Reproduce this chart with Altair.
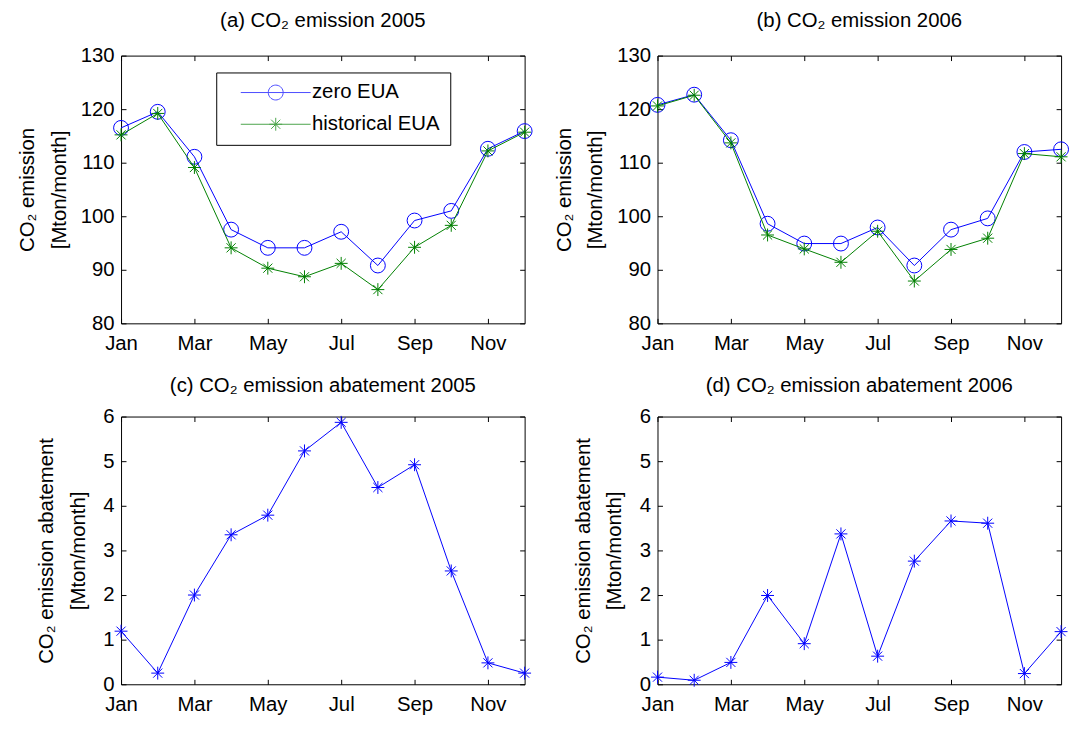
import math
import altair as alt
import pandas as pd

# ---------------- data ----------------
months = ["Jan", "Feb", "Mar", "Apr", "May", "Jun", "Jul", "Aug", "Sep", "Oct", "Nov", "Dec"]
month_num = list(range(1, 13))
tick_months = [1, 3, 5, 7, 9, 11]

zero_2005 = [116.5, 119.5, 111.1, 97.5, 94.1, 94.1, 97.1, 90.8, 99.2, 101.0, 112.6, 115.9]
hist_2005 = [115.2, 119.2, 109.1, 94.1, 90.3, 88.7, 91.2, 86.3, 94.2, 98.3, 112.2, 115.7]
zero_2006 = [120.8, 122.7, 114.2, 98.6, 94.9, 94.9, 97.9, 90.8, 97.5, 99.6, 112.0, 112.5]
hist_2006 = [120.6, 122.6, 113.7, 96.5, 93.9, 91.4, 97.2, 87.9, 93.8, 95.9, 111.7, 111.1]
abate_2005 = [1.19, 0.25, 2.00, 3.35, 3.79, 5.23, 5.87, 4.41, 4.92, 2.54, 0.48, 0.25]
abate_2006 = [0.16, 0.09, 0.49, 1.99, 0.91, 3.37, 0.63, 2.76, 3.66, 3.61, 0.24, 1.18]

series_names = ["zero EUA", "historical EUA"]
titles = ["(a) CO\u2082 emission 2005", "(b) CO\u2082 emission 2006",
          "(c) CO\u2082 emission abatement 2005", "(d) CO\u2082 emission abatement 2006"]
ytitle_top = ["CO\u2082 emission", "[Mton/month]"]
ytitle_bottom = ["CO\u2082 emission abatement", "[Mton/month]"]

# ---------------- style ----------------
BLUE = "#0000ff"
GREEN = "#008000"
FONT = "Liberation Sans"
FS = 20.5
W, H = 407, 270

ASTERISK = "M-1,0L1,0M0,-1L0,1M-0.707,-0.707L0.707,0.707M-0.707,0.707L0.707,-0.707"


def poly_circle(cx, r, n=36):
    pts = [(cx + r * math.cos(2 * math.pi * k / n), r * math.sin(2 * math.pi * k / n)) for k in range(n)]
    return "M" + "L".join(f"{x:.3f},{y:.3f}" for x, y in pts) + "Z"


def star(cx, a):
    d = a * 0.707
    return (f"M{cx-a:.3f},0L{cx+a:.3f},0M{cx:.3f},{-a:.3f}L{cx:.3f},{a:.3f}"
            f"M{cx-d:.3f},{-d:.3f}L{cx+d:.3f},{d:.3f}M{cx-d:.3f},{d:.3f}L{cx+d:.3f},{-d:.3f}")


LEG_LINE = "M0.6,0L10,0"
LEG_CIRCLE = LEG_LINE + poly_circle(5.3, 1.0)
LEG_STAR = LEG_LINE + star(5.3, 0.867)

label_expr = "[" + ",".join(f"'{m}'" for m in months) + "][datum.value - 1]"
xscale = alt.Scale(domain=[1, 12], nice=False, zero=False)

AX = dict(labelFont=FONT, titleFont=FONT, labelFontSize=FS, titleFontSize=FS, labelColor="black",
          titleColor="black", tickColor="black", tickWidth=1, titleFontWeight="normal")


def x_axis_bottom():
    return alt.Axis(values=tick_months, labelExpr=label_expr, orient="bottom", offset=-5, tickSize=5,
                    domain=False, grid=False, title=None, labelPadding=10, labelFlush=False,
                    labelOverlap=False, labelAngle=0, **AX)


def x_axis_top():
    return alt.Axis(values=tick_months, orient="top", offset=-5, tickSize=5, domain=False,
                    grid=False, title=None, labels=False, minExtent=0, maxExtent=0, **AX)


def y_axis_left(vals, title, tx):
    return alt.Axis(values=vals, orient="left", offset=-5, tickSize=5, domain=False, grid=False,
                    labelPadding=7, labelFlush=False, labelOverlap=False, title=title,
                    titleX=tx, titleBaseline="alphabetic", titleLineHeight=32, **AX)


def y_axis_right(vals):
    return alt.Axis(values=vals, orient="right", offset=-5, tickSize=5, domain=False, grid=False,
                    labels=False, title=None, minExtent=0, maxExtent=0, **AX)


def legend():
    return alt.Legend(orient="none", legendX=96, legendY=17, title=None, padding=10,
                      strokeColor="black", fillColor="white", labelFontSize=FS, labelFont=FONT,
                      labelColor="black", symbolSize=225, symbolStrokeWidth=1, labelOffset=66,
                      rowPadding=11, labelLimit=400)


def panel_title(text, off):
    return alt.TitleParams(text=text, fontSize=FS, font=FONT, fontWeight="normal", offset=off,
                           anchor="middle", color="black", frame="group")


def top_panel(zero, hist, title):
    df = pd.DataFrame({"month": month_num, "zero": zero, "hist": hist})
    base = alt.Chart(df)
    yscale = alt.Scale(domain=[80, 130], nice=False, zero=False)
    yvals = [80, 90, 100, 110, 120, 130]
    l1 = base.mark_line(color=BLUE, strokeWidth=1).encode(
        x=alt.X("month:Q", scale=xscale, axis=x_axis_bottom()),
        y=alt.Y("zero:Q", scale=yscale, axis=y_axis_left(yvals, ytitle_top, -93)))
    p1 = base.mark_point(shape="circle", size=225, color=BLUE, filled=False, strokeWidth=1, opacity=1).encode(
        x=alt.X("month:Q", scale=xscale, axis=None),
        y=alt.Y("zero:Q", scale=yscale, axis=None))
    l2 = base.mark_line(color=GREEN, strokeWidth=1).encode(
        x=alt.X("month:Q", scale=xscale, axis=x_axis_top()),
        y=alt.Y("hist:Q", scale=yscale, axis=y_axis_right(yvals)))
    p2 = base.mark_point(shape=ASTERISK, size=169, color=GREEN, filled=False, strokeWidth=1, opacity=1).encode(
        x=alt.X("month:Q", scale=xscale, axis=None),
        y=alt.Y("hist:Q", scale=yscale, axis=None))
    leg_df = pd.DataFrame({"series": series_names})
    leg = alt.Chart(leg_df).transform_filter("false").mark_point(filled=False, size=225, strokeWidth=1).encode(
        color=alt.Color("series:N", scale=alt.Scale(domain=series_names, range=[BLUE, GREEN]), legend=legend()),
        shape=alt.Shape("series:N", scale=alt.Scale(domain=series_names, range=[LEG_CIRCLE, LEG_STAR]), legend=legend()))
    return alt.layer(l1, p1, l2, p2, leg).resolve_axis(x="independent", y="independent").properties(
        width=W, height=H, title=panel_title(title, 14))


def bottom_panel(vals, title, tx):
    df = pd.DataFrame({"month": month_num, "abatement": vals})
    base = alt.Chart(df)
    yscale = alt.Scale(domain=[0, 6], nice=False, zero=False)
    yvals = [0, 1, 2, 3, 4, 5, 6]
    l1 = base.mark_line(color=BLUE, strokeWidth=1).encode(
        x=alt.X("month:Q", scale=xscale, axis=x_axis_bottom()),
        y=alt.Y("abatement:Q", scale=yscale, axis=y_axis_left(yvals, ytitle_bottom, tx)))
    p1 = base.mark_point(shape=ASTERISK, size=169, color=BLUE, filled=False, strokeWidth=1, opacity=1).encode(
        x=alt.X("month:Q", scale=xscale, axis=x_axis_top()),
        y=alt.Y("abatement:Q", scale=yscale, axis=y_axis_right(yvals)))
    return alt.layer(l1, p1).resolve_axis(x="independent", y="independent").properties(
        width=W, height=H, title=panel_title(title, 10))


a = top_panel(zero_2005, hist_2005, titles[0])
b = top_panel(zero_2006, hist_2006, titles[1])
c = bottom_panel(abate_2005, titles[2], -74)
d = bottom_panel(abate_2006, titles[3], -74)

chart = alt.concat(a, b, c, d, columns=2, spacing={"row": 94, "column": 134}, bounds="flush").properties(
    padding={"left": 9, "top": 0, "right": 0, "bottom": 0}
).configure(background="white").configure_view(stroke="black", strokeWidth=1).configure_axis(**AX)

chart.save("out.html", embed_options={"renderer": "svg", "actions": False})
